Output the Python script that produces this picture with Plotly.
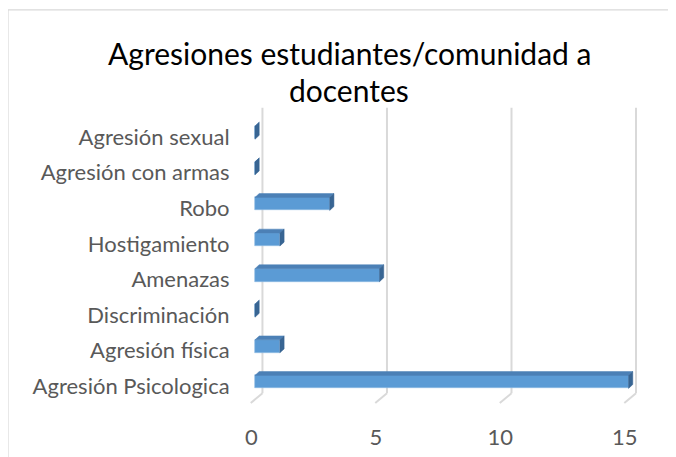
import plotly.graph_objects as go

categories = ["Agresión Psicologica", "Agresión física", "Discriminación", "Amenazas",
              "Hostigamiento", "Robo", "Agresión con armas", "Agresión sexual"]
values = [15, 1, 0, 5, 1, 3, 0, 0]
x_ticks = [0, 5, 10, 15]
title_lines = ["Agresiones estudiantes/comunidad a", "docentes"]

FRONT = "#5B9BD5"
TOP = "#4C80B6"
SIDE = "#386593"
GRID = "#D9D9D9"

# page body has an 8px default margin; work in screen pixels and convert
OFF = 8
W, H = 676 - OFF, 457 - OFF
PL, PR, PT, PB = 250, 641, 105, 403.8
ML, MR, MT, MB = PL - OFF, W - (PR - OFF), PT - OFF, H - (PB - OFF)
XR = [-0.2, 15.5]
YR = [-0.5, 7.9]
pw = PR - PL
ph = PB - PT

def px2paper_x(px):
    return (px - PL) / pw

def px2paper_y(py):
    return (PB - py) / ph

pos = list(range(len(categories)))
bw = 0.365
off = 0.12
dx, dy = 0.17, 0.11

fig = go.Figure()

fig.add_trace(go.Bar(
    y=[p + off for p in pos], x=values, orientation="h", width=bw,
    marker=dict(color=FRONT, line=dict(color="#8DBBE4", width=0.6)),
    hoverinfo="x", showlegend=False))

tx, ty, sx, sy = [], [], [], []
for p, v in zip(pos, values):
    yb = p + off - bw / 2
    yt = p + off + bw / 2
    tx += [0, v, v + dx, dx, 0, None]
    ty += [yt, yt, yt + dy, yt + dy, yt, None]
    sx += [v, v, v + dx, v + dx, v, None]
    sy += [yb, yt, yt + dy, yb + dy, yb, None]
fig.add_trace(go.Scatter(x=tx, y=ty, mode="lines", fill="toself", fillcolor=TOP,
                         line=dict(color=TOP, width=0.5), hoverinfo="skip", showlegend=False))
fig.add_trace(go.Scatter(x=sx, y=sy, mode="lines", fill="toself", fillcolor=SIDE,
                         line=dict(color=SIDE, width=0.5), hoverinfo="skip", showlegend=False))

shapes = []
gback, gfront = 0.3, -0.17
ytop, yfloor, yfront = 7.82, -0.2, -0.47
for t in x_ticks:
    shapes.append(dict(type="line", xref="x", yref="y", x0=t + gback, x1=t + gback,
                       y0=ytop, y1=yfloor, line=dict(color=GRID, width=2), layer="below"))
    shapes.append(dict(type="line", xref="x", yref="y", x0=t + gback, x1=t + gfront,
                       y0=yfloor, y1=yfront, line=dict(color=GRID, width=2), layer="below"))

shapes.append(dict(type="rect", xref="paper", yref="paper",
                   x0=px2paper_x(8), x1=px2paper_x(720), y0=px2paper_y(10), y1=px2paper_y(500),
                   line=dict(color="#D9D9D9", width=1.2), fillcolor="rgba(0,0,0,0)", layer="below"))

annotations = [
    dict(text=title_lines[0], xref="paper", yref="paper", x=px2paper_x(349), y=px2paper_y(53),
         xanchor="center", yanchor="middle", showarrow=False,
         font=dict(family="Lato", size=30, color="#000000")),
    dict(text=title_lines[1], xref="paper", yref="paper", x=px2paper_x(349), y=px2paper_y(90),
         xanchor="center", yanchor="middle", showarrow=False,
         font=dict(family="Lato", size=30, color="#000000")),
]

fig.update_layout(
    template="none",
    width=W, height=H,
    margin=dict(l=ML, r=MR, t=MT, b=MB, pad=0, autoexpand=False),
    paper_bgcolor="white", plot_bgcolor="white",
    font=dict(family="Lato", color="#595959", size=22),
    shapes=shapes, annotations=annotations,
    xaxis=dict(range=XR, tickvals=[t - 0.15 for t in x_ticks], ticktext=[str(t) for t in x_ticks],
               showgrid=False, zeroline=False, showline=False, automargin=False,
               ticks="outside", ticklen=14, tickcolor="rgba(0,0,0,0)",
               tickfont=dict(family="Lato", size=22, color="#595959"), fixedrange=True),
    yaxis=dict(range=YR, tickvals=pos, ticktext=categories,
               showgrid=False, zeroline=False, showline=False, automargin=False,
               ticks="outside", ticklen=15, tickcolor="rgba(0,0,0,0)",
               tickfont=dict(family="Lato", size=22, color="#595959"), fixedrange=True),
    bargap=0,
)

fig.write_html("out.html")
